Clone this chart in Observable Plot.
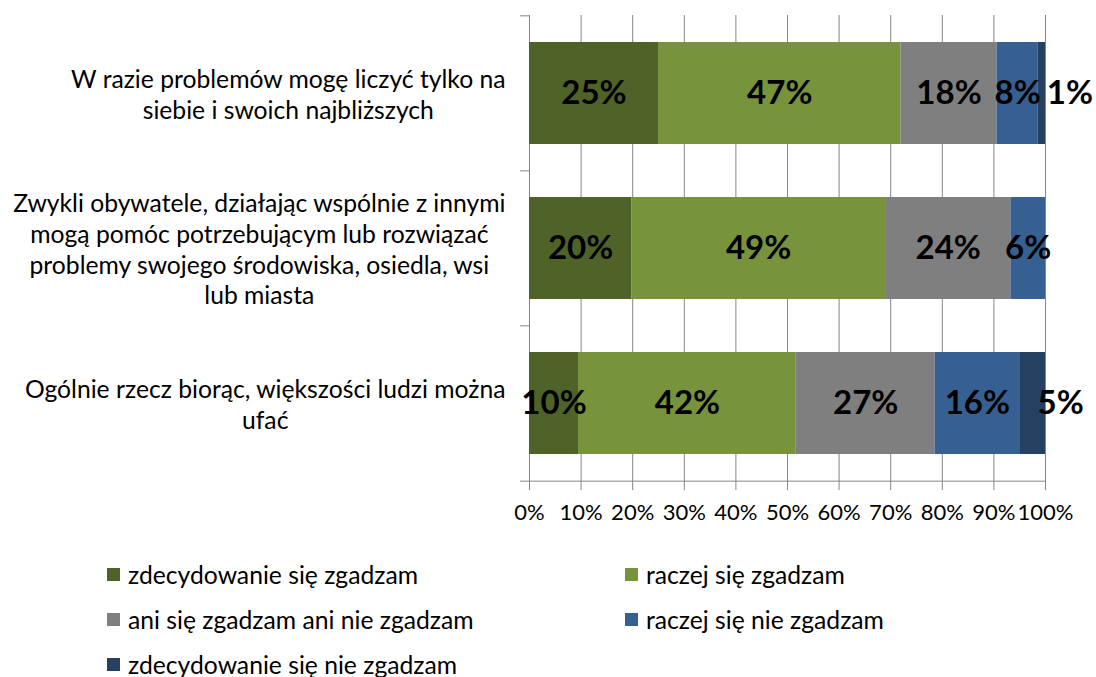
<!DOCTYPE html>
<html><head><meta charset="utf-8">
<script src="https://cdn.jsdelivr.net/npm/d3@7"></script>
<script src="https://cdn.jsdelivr.net/npm/@observablehq/plot@0.6"></script>
<style>
body{margin:0;background:#fff;font-family:Lato,sans-serif;}
#legend{display:grid;grid-template-columns:518px 440px;padding-left:107px;margin-top:12px;}
.item{height:45px;display:flex;align-items:center;font-size:24.7px;color:#000;white-space:nowrap;}
.sw{width:13px;height:13px;margin-right:8px;flex:none;}
</style></head><body><div id="chart"></div><div id="legend"></div>
<script>
const categories = [
  "W razie problemów mogę liczyć tylko na\nsiebie i swoich najbliższych",
  "Zwykli obywatele, działając wspólnie z innymi\nmogą pomóc potrzebującym lub rozwiązać\nproblemy swojego środowiska, osiedla, wsi\nlub miasta",
  "Ogólnie rzecz biorąc, większości ludzi można\nufać"
];
const seriesNames = ["zdecydowanie się zgadzam","raczej się zgadzam","ani się zgadzam ani nie zgadzam","raczej się nie zgadzam","zdecydowanie się nie zgadzam"];
const colors = ["#4F6228","#77933C","#7F7F7F","#376092","#254061"];
// values (share of bar)
const zdecZgadzam = [25.0, 19.8, 9.5];
const raczejZgadzam = [47.0, 49.2, 42.2];
const aniAni = [18.6, 24.3, 26.9];
const raczejNie = [8.0, 6.7, 16.4];
const zdecNie = [1.4, 0, 5.0];
// displayed labels
const lblZdecZgadzam = [25, 20, 10];
const lblRaczejZgadzam = [47, 49, 42];
const lblAniAni = [18, 24, 27];
const lblRaczejNie = [8, 6, 16];
const lblZdecNie = [1, null, 5];
const xTicks = [0,10,20,30,40,50,60,70,80,90,100];

const seriesValues = [zdecZgadzam, raczejZgadzam, aniAni, raczejNie, zdecNie];
const seriesLabels = [lblZdecZgadzam, lblRaczejZgadzam, lblAniAni, lblRaczejNie, lblZdecNie];

const rows = [];
categories.forEach((c,i)=>seriesNames.forEach((s,j)=>{
  const v = seriesValues[j][i];
  if (v > 0) rows.push({cat:c, series:s, value:v, label:seriesLabels[j][i], last: j===seriesNames.length-1});
}));

const W=1096, H=540, mT=15, mB=59, mL=529, mR=51;
const step = (H-mT-mB)/categories.length;
const pxToX = 100/(W-mL-mR);
const tickLen = 9;
const axisColor = "#868686";
const lastCat = categories[categories.length-1];

const chart = Plot.plot({
  width:W, height:H, marginTop:mT, marginBottom:mB, marginLeft:mL, marginRight:mR,
  style:{fontFamily:"Lato, sans-serif", background:"#fff", overflow:"visible"},
  x:{domain:[0,100], axis:null},
  y:{domain:categories, paddingInner:0.34, paddingOuter:0.17, axis:null},
  color:{domain:seriesNames, range:colors},
  marks:[
    Plot.gridX(xTicks.slice(1), {stroke:axisColor, strokeOpacity:1}),
    Plot.ruleX([0], {stroke:axisColor}),
    Plot.ruleY(categories, {y:d=>d, x1:-tickLen*pxToX, x2:0, dy:-step/2, stroke:axisColor}),
    Plot.ruleY([lastCat], {y:d=>d, x1:-tickLen*pxToX, x2:100, dy:step/2, stroke:axisColor}),
    Plot.axisX(xTicks, {tickSize:tickLen, tickPadding:14, tickFormat:d=>d+"%", fontSize:22, stroke:axisColor, fill:"#000", label:null}),
    Plot.barX(rows, {x:"value", y:"cat", fill:"series"}),
    Plot.text(rows, Plot.stackX({x:"value", y:"cat", text:d=>d.last?null:d.label+"%", fontSize:33, fontWeight:"bold", fill:"#000"})),
    Plot.text(rows, Plot.stackX({x:"value", y:"cat", text:d=>d.last?d.label+"%":null, dx:28, fontSize:33, fontWeight:"bold", fill:"#000"})),
    Plot.text(categories, {y:d=>d, text:d=>d, frameAnchor:"left", textAnchor:"middle", lineHeight:1.24, fontSize:24.7, fill:"#000"})
  ]
});
document.getElementById("chart").append(chart);
const rightEdge = 505;
const flat = categories.map(c=>c.replace(/\n/g,""));
chart.querySelectorAll('text').forEach(t=>{
  if (!flat.includes(t.textContent.replace(/\n/g,""))) return;
  const w = t.getBBox().width;
  const shift = (rightEdge - w/2) - mL;
  const tr = t.getAttribute("transform") || "";
  t.setAttribute("transform", `translate(${shift},0) ` + tr);
});
const lg = document.getElementById("legend");
seriesNames.forEach((s,i)=>{
  const d = document.createElement("div"); d.className="item";
  d.innerHTML = `<span class="sw" style="background:${colors[i]}"></span><span>${s}</span>`;
  lg.append(d);
});
</script>
</body></html>
